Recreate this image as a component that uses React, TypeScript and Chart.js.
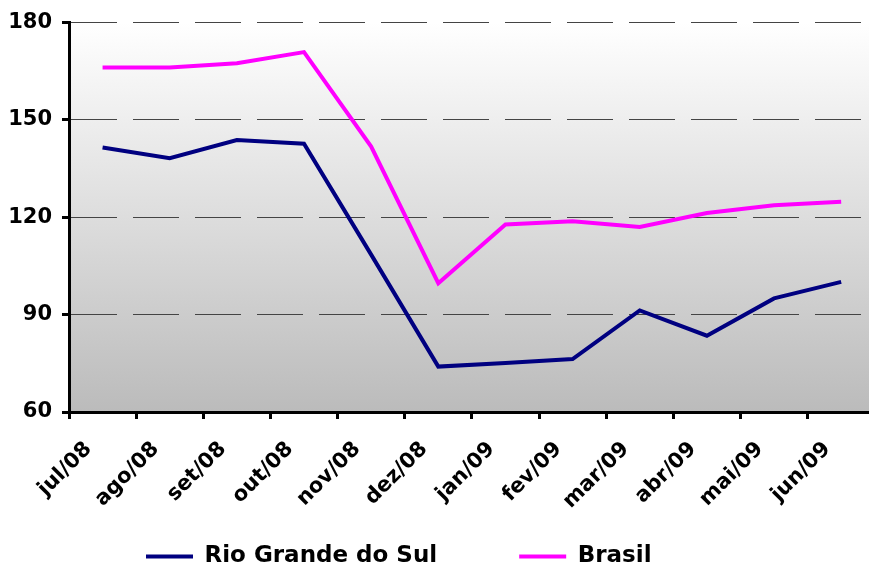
import React, { useEffect, useRef } from "react";
import { Chart, registerables } from "chart.js";

Chart.register(...registerables);

const categories = [
  "jul/08", "ago/08", "set/08", "out/08", "nov/08", "dez/08",
  "jan/09", "fev/09", "mar/09", "abr/09", "mai/09", "jun/09",
];
const seriesNames = ["Rio Grande do Sul", "Brasil"];
const rioGrandeDoSul = [141.5, 138.2, 143.8, 142.7, 108.5, 74.0, 75.1, 76.3, 91.3, 83.5, 95.0, 100.1];
const brasil = [166.2, 166.2, 167.5, 170.9, 141.8, 99.7, 117.8, 118.8, 117.0, 121.3, 123.7, 124.8];
const yTicks = [60, 90, 120, 150, 180];

const FONT = "'DejaVu Sans', Verdana, sans-serif";

const backgroundPlugin = {
  id: "plotBackground",
  beforeDraw(chart: any) {
    const { ctx, chartArea: a } = chart;
    if (!a) return;
    const g = ctx.createLinearGradient(0, a.top, 0, a.bottom);
    g.addColorStop(0, "#ffffff");
    g.addColorStop(1, "#bbbbbb");
    ctx.save();
    ctx.fillStyle = g;
    ctx.fillRect(a.left, a.top, a.right - a.left, a.bottom - a.top);
    ctx.restore();
  },
};

const layoutTweakPlugin = {
  id: "layoutTweak",
  afterLayout(chart: any) {
    if (chart.legend) {
      chart.legend.left = 64;
    }
    // let rotated x labels extend below the axis box (avoid clipping)
    if (chart.scales && chart.scales.x) {
      chart.scales.x.bottom = chart.height;
    }
  },
};

export default function App() {
  const canvasRef = useRef<HTMLCanvasElement | null>(null);

  useEffect(() => {
    if (!canvasRef.current) return;
    const chart = new Chart(canvasRef.current, {
      type: "line",
      data: {
        labels: categories,
        datasets: [
          {
            label: seriesNames[0],
            data: rioGrandeDoSul,
            borderColor: "#000080",
            backgroundColor: "#000080",
            borderWidth: 4,
            pointRadius: 0,
            tension: 0,
            fill: false,
          },
          {
            label: seriesNames[1],
            data: brasil,
            borderColor: "#ff00ff",
            backgroundColor: "#ff00ff",
            borderWidth: 4,
            pointRadius: 0,
            tension: 0,
            fill: false,
          },
        ],
      },
      options: {
        responsive: false,
        animation: false,
        devicePixelRatio: 1,
        layout: { padding: { top: 22, left: 0, right: 0, bottom: 0 } },
        plugins: {
          tooltip: { enabled: false },
          title: { display: false },
          legend: {
            display: true,
            position: "bottom",
            align: "start",
            labels: {
              usePointStyle: true,
              pointStyle: "line",
              pointStyleWidth: 47,
              padding: 82,
              color: "#000",
              font: { family: FONT, size: 23, weight: "bold" },
            },
          },
        },
        scales: {
          x: {
            type: "category",
            offset: true,
            grid: {
              display: true,
              drawOnChartArea: false,
              drawTicks: true,
              tickLength: 7,
              tickColor: "#000",
              tickWidth: 3,
              offset: true,
            },
            border: { display: true, color: "#000", width: 3 },
            ticks: {
              color: "#000",
              font: { family: FONT, size: 21, weight: "bold" },
              minRotation: 45,
              maxRotation: 45,
              autoSkip: false,
              padding: 18,
              labelOffset: -14,
            },
            afterFit(scale: any) {
              scale.height = 51;
            },
          },
          y: {
            min: yTicks[0],
            max: yTicks[yTicks.length - 1],
            ticks: {
              stepSize: yTicks[1] - yTicks[0],
              color: "#000",
              font: { family: FONT, size: 21, weight: "bold" },
              padding: 10,
            },
            grid: {
              color: "#444444",
              lineWidth: 1,
              drawTicks: true,
              tickLength: 7,
              tickColor: "#000",
              tickWidth: 3,
            },
            border: { display: true, color: "#000", width: 3, dash: [46, 16] },
            afterFit(scale: any) {
              scale.width = 69;
            },
          },
        },
      },
      plugins: [backgroundPlugin, layoutTweakPlugin],
    } as any);
    return () => chart.destroy();
  }, []);

  return (
    <div
      style={{
        position: "fixed",
        left: 0,
        top: 0,
        width: 869,
        height: 569,
        overflow: "hidden",
        background: "#fff",
      }}
    >
      <canvas ref={canvasRef} width={877} height={578} style={{ display: "block" }} />
    </div>
  );
}
